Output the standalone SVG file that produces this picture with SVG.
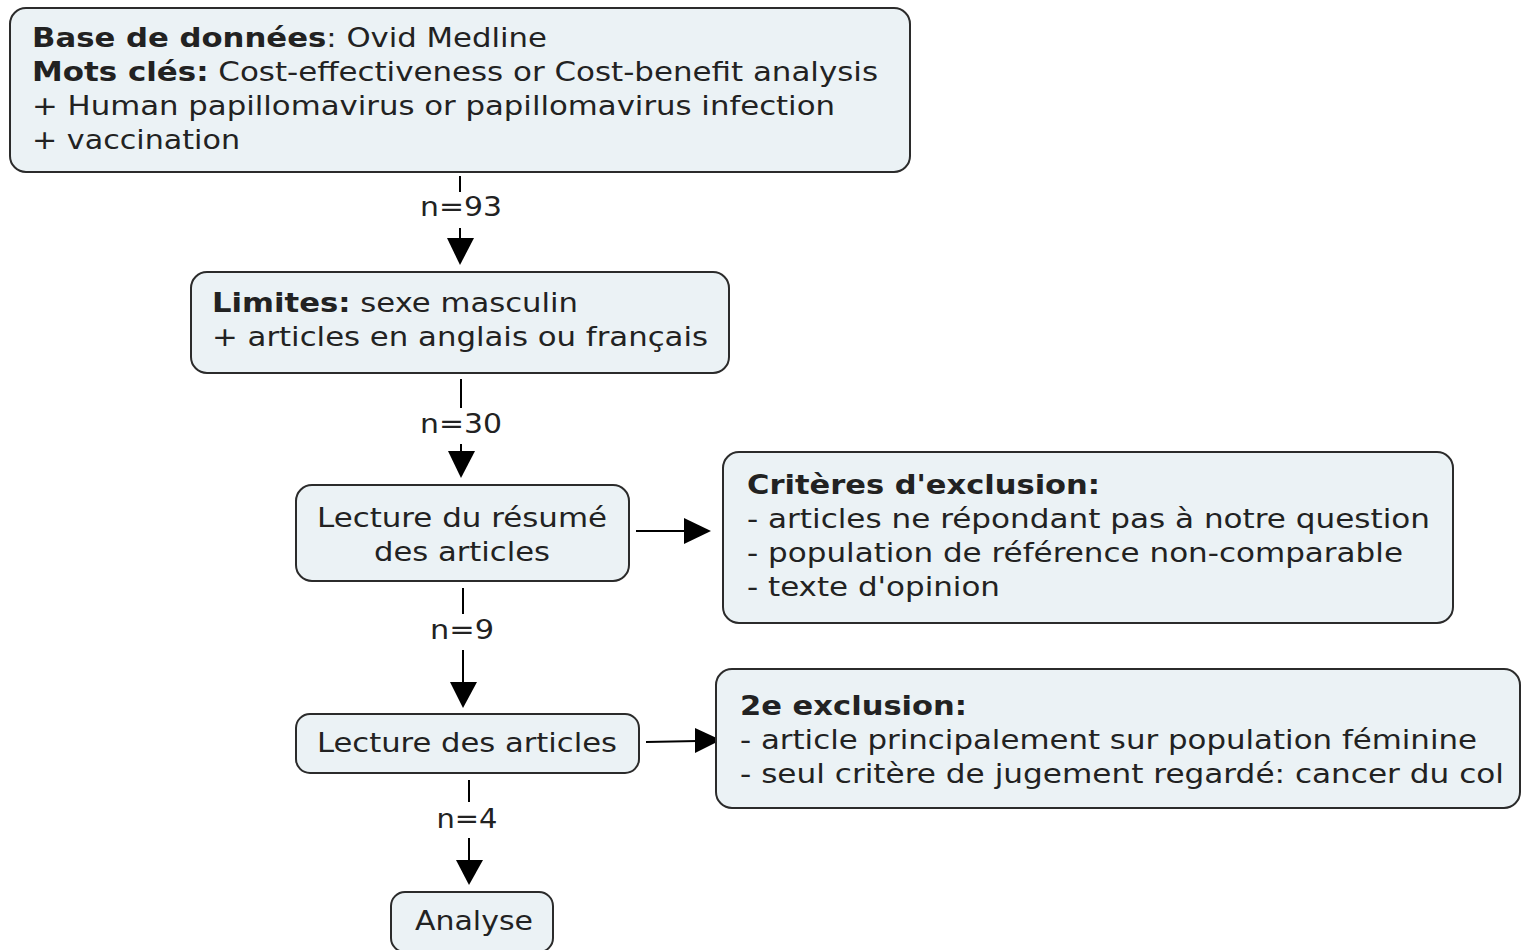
<svg xmlns="http://www.w3.org/2000/svg" width="1522" height="950" viewBox="0 0 1522 950">
<defs>
<style>
.box{fill:#ebf2f5;stroke:#2b2b2b;stroke-width:2}
text{font-family:"DejaVu Sans",Verdana,sans-serif;font-size:26px;fill:#222}
.b{font-weight:bold}
.c{text-anchor:middle}
.ln{stroke:#000;stroke-width:2;fill:none}
.hd{fill:#000}
</style>
</defs>
<rect width="1522" height="950" fill="#fff"/>
<g id="connectors">
<line class="ln" x1="460" y1="176" x2="460" y2="192"/>
<text class="c" x="461" y="216" textLength="82" lengthAdjust="spacingAndGlyphs">n=93</text>
<line class="ln" x1="460" y1="228" x2="460" y2="240"/>
<path class="hd" d="M447,238 L474,238 L460,265 Z"/>
<line class="ln" x1="461" y1="379" x2="461" y2="408"/>
<text class="c" x="461" y="433" textLength="82" lengthAdjust="spacingAndGlyphs">n=30</text>
<line class="ln" x1="461" y1="444" x2="461" y2="452"/>
<path class="hd" d="M448,451 L475,451 L461,478 Z"/>
<line class="ln" x1="636" y1="531" x2="688" y2="531"/>
<path class="hd" d="M684,518 L711,531 L684,544 Z"/>
<line class="ln" x1="463" y1="588" x2="463" y2="614"/>
<text class="c" x="462" y="639" textLength="64" lengthAdjust="spacingAndGlyphs">n=9</text>
<line class="ln" x1="463" y1="650" x2="463" y2="684"/>
<path class="hd" d="M450,682 L477,682 L463,708 Z"/>
<line class="ln" x1="646" y1="742" x2="698" y2="741"/>
<path class="hd" d="M695,728 L721,740 L695,753 Z"/>
<line class="ln" x1="469" y1="780" x2="469" y2="802"/>
<text class="c" x="467" y="828" textLength="61" lengthAdjust="spacingAndGlyphs">n=4</text>
<line class="ln" x1="469" y1="838" x2="469" y2="862"/>
<path class="hd" d="M456,860 L483,860 L469,885 Z"/>
</g>
<g id="n1">
<rect class="box" x="10" y="8" width="900" height="164" rx="16"/>
<text x="32" y="47" textLength="515" lengthAdjust="spacingAndGlyphs"><tspan class="b">Base de données</tspan>: Ovid Medline</text>
<text x="32" y="81" textLength="846" lengthAdjust="spacingAndGlyphs"><tspan class="b">Mots clés:</tspan> Cost-effectiveness or Cost-benefit analysis</text>
<text x="32" y="115" textLength="803" lengthAdjust="spacingAndGlyphs">+ Human papillomavirus or papillomavirus infection</text>
<text x="32" y="149" textLength="208" lengthAdjust="spacingAndGlyphs">+ vaccination</text>
</g>
<g id="n2">
<rect class="box" x="191" y="272" width="538" height="101" rx="16"/>
<text x="212" y="312" textLength="366" lengthAdjust="spacingAndGlyphs"><tspan class="b">Limites:</tspan> sexe masculin</text>
<text x="212" y="346" textLength="496" lengthAdjust="spacingAndGlyphs">+ articles en anglais ou français</text>
</g>
<g id="n3">
<rect class="box" x="296" y="485" width="333" height="96" rx="16"/>
<text class="c" x="462" y="527" textLength="290" lengthAdjust="spacingAndGlyphs">Lecture du résumé</text>
<text class="c" x="462" y="561" textLength="176" lengthAdjust="spacingAndGlyphs">des articles</text>
</g>
<g id="n4">
<rect class="box" x="723" y="452" width="730" height="171" rx="16"/>
<text class="b" x="747" y="494" textLength="353" lengthAdjust="spacingAndGlyphs">Critères d'exclusion:</text>
<text x="747" y="528" textLength="683" lengthAdjust="spacingAndGlyphs">- articles ne répondant pas à notre question</text>
<text x="747" y="562" textLength="656" lengthAdjust="spacingAndGlyphs">- population de référence non-comparable</text>
<text x="747" y="596" textLength="253" lengthAdjust="spacingAndGlyphs">- texte d'opinion</text>
</g>
<g id="n5">
<rect class="box" x="296" y="714" width="343" height="59" rx="14"/>
<text class="c" x="467" y="752" textLength="300" lengthAdjust="spacingAndGlyphs">Lecture des articles</text>
</g>
<g id="n6">
<rect class="box" x="716" y="669" width="804" height="139" rx="16"/>
<text class="b" x="740" y="715" textLength="227" lengthAdjust="spacingAndGlyphs">2e exclusion:</text>
<text x="740" y="749" textLength="737" lengthAdjust="spacingAndGlyphs">- article principalement sur population féminine</text>
<text x="740" y="783" textLength="764" lengthAdjust="spacingAndGlyphs">- seul critère de jugement regardé: cancer du col</text>
</g>
<g id="n7">
<rect class="box" x="391" y="892" width="162" height="60" rx="14"/>
<text class="c" x="474" y="930" textLength="118" lengthAdjust="spacingAndGlyphs">Analyse</text>
</g>
</svg>
